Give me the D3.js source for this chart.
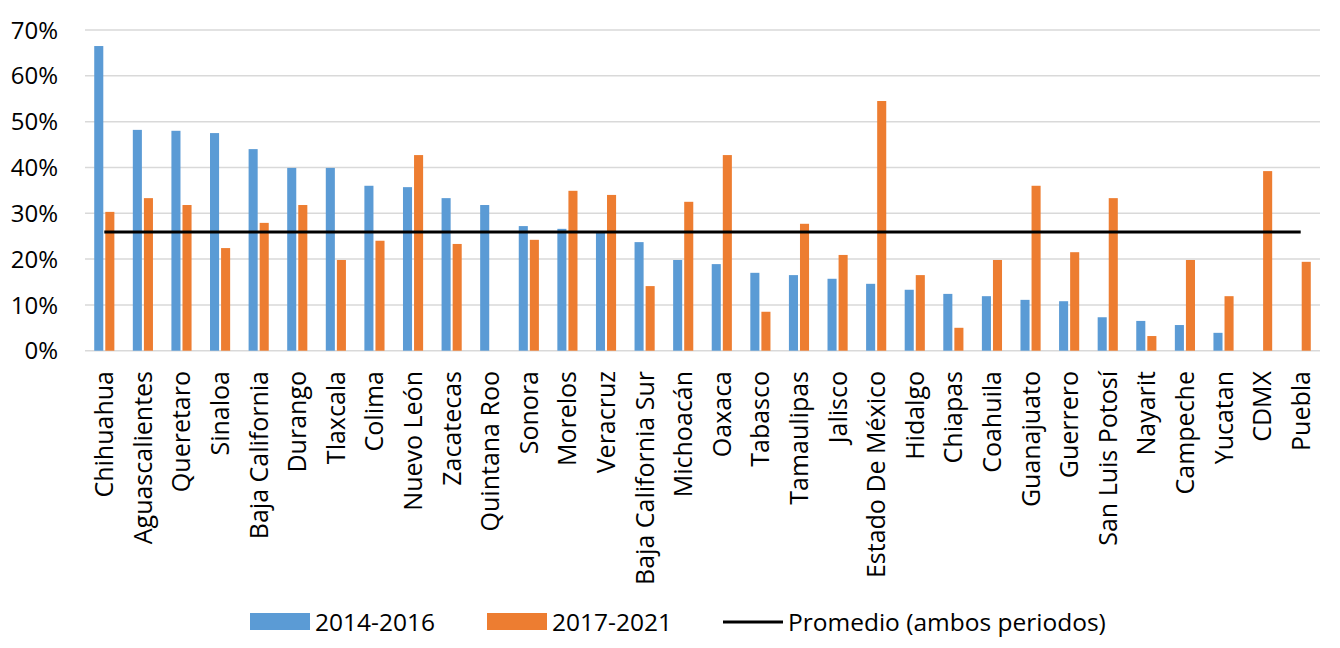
<!DOCTYPE html>
<html>
<head>
<meta charset="utf-8">
<script src="https://cdn.jsdelivr.net/npm/d3@7"></script>
<style>
  body { margin: 0; background: #fff; }
  svg { font-family: "Open Sans", Lato, sans-serif; }
</style>
</head>
<body>
<svg id="chart" width="1340" height="648"></svg>
<script>
var states = [
  "Chihuahua", "Aguascalientes", "Queretaro", "Sinaloa", "Baja California",
  "Durango", "Tlaxcala", "Colima", "Nuevo León", "Zacatecas", "Quintana Roo",
  "Sonora", "Morelos", "Veracruz", "Baja California Sur", "Michoacán", "Oaxaca",
  "Tabasco", "Tamaulipas", "Jalisco", "Estado De México", "Hidalgo", "Chiapas",
  "Coahuila", "Guanajuato", "Guerrero", "San Luis Potosí", "Nayarit", "Campeche",
  "Yucatan", "CDMX", "Puebla"
];
var period1 = [
  66.5, 48.2, 48.0, 47.5, 44.0, 39.9, 39.9, 36.0, 35.7, 33.3, 31.8,
  27.2, 26.6, 25.7, 23.7, 19.8, 18.9, 17.0, 16.5, 15.7, 14.6, 13.3, 12.4,
  11.9, 11.1, 10.8, 7.3, 6.5, 5.6, 3.9, null, null
];
var period2 = [
  30.3, 33.3, 31.8, 22.4, 27.9, 31.8, 19.8, 24.0, 42.7, 23.3, null,
  24.2, 34.9, 34.0, 14.1, 32.5, 42.7, 8.5, 27.7, 20.9, 54.5, 16.5, 5.0,
  19.8, 36.0, 21.5, 33.3, 3.2, 19.8, 11.9, 39.2, 19.4
];
var average = 25.9;
var yTicks = [0, 10, 20, 30, 40, 50, 60, 70];
var seriesNames = ["2014-2016", "2017-2021", "Promedio (ambos periodos)"];
var colors = ["#5b9bd5", "#ed7d31", "#000000"];

var svg = d3.select("#chart");
var plotLeft = 85, plotRight = 1320, plotTop = 30, plotBottom = 350.7;

var x = d3.scaleBand().domain(states).range([plotLeft, plotRight]);
var y = d3.scaleLinear().domain([0, 70]).range([plotBottom, plotTop]);
var barW = x.bandwidth() * 0.235, gap = 2;

// gridlines
svg.append("g")
  .selectAll("line")
  .data(yTicks)
  .enter()
  .append("line")
  .attr("x1", plotLeft).attr("x2", plotRight)
  .attr("y1", d => y(d)).attr("y2", d => y(d))
  .attr("stroke", "#d9d9d9")
  .attr("stroke-width", 1.5);

// y labels
svg.append("g")
  .selectAll("text")
  .data(yTicks)
  .enter()
  .append("text")
  .attr("x", 58)
  .attr("y", d => y(d))
  .attr("dy", "0.36em")
  .attr("text-anchor", "end")
  .attr("font-size", 24)
  .attr("fill", "#000")
  .text(d => d + "%");

// bars
function drawBars(values, color, offset) {
  svg.append("g")
    .selectAll("rect")
    .data(states.map((s, i) => [s, values[i]]).filter(d => d[1] !== null))
    .enter()
    .append("rect")
    .attr("x", d => x(d[0]) + x.bandwidth() / 2 + offset)
    .attr("width", barW)
    .attr("y", d => y(d[1]))
    .attr("height", d => y(0) - y(d[1]))
    .attr("fill", color);
}
drawBars(period1, colors[0], -barW - gap / 2);
drawBars(period2, colors[1], gap / 2);

// average line
svg.append("line")
  .attr("x1", x(states[0]) + x.bandwidth() / 2)
  .attr("x2", x(states[states.length - 1]) + x.bandwidth() / 2)
  .attr("y1", y(average)).attr("y2", y(average))
  .attr("stroke", "#000")
  .attr("stroke-width", 3);

// category labels
svg.append("g")
  .selectAll("text")
  .data(states)
  .enter()
  .append("text")
  .attr("transform", d => "translate(" + (x(d) + x.bandwidth() / 2) + "," + 371 + ") rotate(-90)")
  .attr("text-anchor", "end")
  .attr("dy", "0.36em")
  .attr("font-size", 25)
  .attr("fill", "#000")
  .text(d => d);

// legend
var legendItems = [
  { name: seriesNames[0], color: colors[0], type: "rect", x: 250 },
  { name: seriesNames[1], color: colors[1], type: "rect", x: 487 },
  { name: seriesNames[2], color: colors[2], type: "line", x: 723 }
];
var legend = svg.append("g");
legendItems.forEach(function (d) {
  if (d.type === "rect") {
    legend.append("rect")
      .attr("x", d.x).attr("y", 613)
      .attr("width", 60).attr("height", 17)
      .attr("fill", d.color);
  } else {
    legend.append("line")
      .attr("x1", d.x).attr("x2", d.x + 60)
      .attr("y1", 622).attr("y2", 622)
      .attr("stroke", d.color)
      .attr("stroke-width", 3);
  }
  legend.append("text")
    .attr("x", d.x + 65)
    .attr("y", 622)
    .attr("dy", "0.36em")
    .attr("font-size", 24.5)
    .attr("fill", "#000")
    .text(d.name);
});
</script>
</body>
</html>
